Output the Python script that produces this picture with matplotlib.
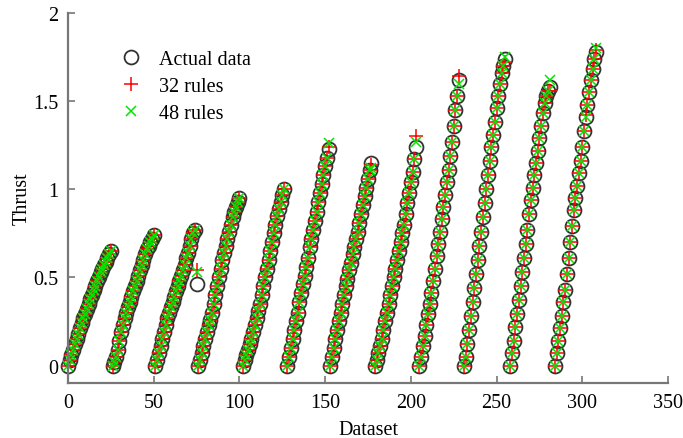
import numpy as np
import matplotlib
matplotlib.use("Agg")
import matplotlib.pyplot as plt
from matplotlib.ticker import FormatStrFormatter

# measured thrust, one list per test run (starting dataset index, values)
seg_start = [0, 26, 51, 76, 102, 128, 153, 179, 205, 231, 258, 284]
seg_values = [
    [0.0, 0.03, 0.06, 0.09, 0.12, 0.15, 0.18, 0.21, 0.24, 0.27, 0.29, 0.32, 0.35,
     0.38, 0.40, 0.43, 0.45, 0.48, 0.50, 0.53, 0.55, 0.57, 0.59, 0.61, 0.63, 0.65],
    [0.0, 0.02, 0.05, 0.09, 0.14, 0.19, 0.23, 0.27, 0.30, 0.33, 0.36, 0.39, 0.42,
     0.45, 0.48, 0.51, 0.54, 0.57, 0.60, 0.63, 0.66, 0.68, 0.70, 0.72, 0.74],
    [0.0, 0.03, 0.07, 0.11, 0.15, 0.19, 0.23, 0.27, 0.30, 0.33, 0.36, 0.39, 0.42,
     0.45, 0.48, 0.51, 0.54, 0.57, 0.61, 0.64, 0.68, 0.72, 0.75, 0.77, 0.46],
    [0.0, 0.03, 0.07, 0.11, 0.15, 0.19, 0.23, 0.26, 0.30, 0.35, 0.40, 0.45, 0.50,
     0.55, 0.60, 0.64, 0.68, 0.72, 0.76, 0.80, 0.84, 0.87, 0.90, 0.93, 0.95],
    [0.0, 0.03, 0.06, 0.09, 0.12, 0.15, 0.19, 0.23, 0.27, 0.31, 0.35, 0.40, 0.45,
     0.50, 0.55, 0.60, 0.65, 0.70, 0.75, 0.80, 0.85, 0.89, 0.93, 0.97, 1.0],
    [0.0, 0.05, 0.10, 0.15, 0.20, 0.25, 0.30, 0.36, 0.41, 0.46, 0.51, 0.56, 0.61,
     0.67, 0.72, 0.77, 0.82, 0.87, 0.93, 0.98, 1.03, 1.08, 1.13, 1.18, 1.23],
    [0.0, 0.05, 0.10, 0.15, 0.20, 0.25, 0.30, 0.35, 0.40, 0.45, 0.49, 0.54, 0.58,
     0.63, 0.67, 0.72, 0.76, 0.81, 0.86, 0.91, 0.96, 1.01, 1.06, 1.11, 1.15],
    [0.0, 0.03, 0.07, 0.11, 0.15, 0.20, 0.25, 0.30, 0.35, 0.40, 0.45, 0.50, 0.55,
     0.60, 0.65, 0.70, 0.75, 0.80, 0.86, 0.92, 0.98, 1.04, 1.10, 1.17, 1.24],
    [0.0, 0.05, 0.11, 0.17, 0.23, 0.29, 0.35, 0.41, 0.48, 0.55, 0.62, 0.69, 0.76,
     0.83, 0.90, 0.97, 1.04, 1.11, 1.19, 1.27, 1.36, 1.45, 1.53, 1.62],
    [0.0, 0.05, 0.12, 0.20, 0.28, 0.36, 0.44, 0.52, 0.60, 0.68, 0.76, 0.84, 0.92,
     1.00, 1.08, 1.16, 1.24, 1.31, 1.38, 1.46, 1.53, 1.60, 1.66, 1.70, 1.74],
    [0.0, 0.07, 0.14, 0.22, 0.29, 0.37, 0.45, 0.53, 0.61, 0.69, 0.77, 0.86, 0.94,
     1.01, 1.08, 1.15, 1.22, 1.29, 1.36, 1.43, 1.49, 1.53, 1.56, 1.58],
    [0.0, 0.07, 0.14, 0.21, 0.28, 0.36, 0.43, 0.52, 0.61, 0.70, 0.79, 0.88, 0.95,
     1.02, 1.09, 1.16, 1.24, 1.33, 1.41, 1.48, 1.55, 1.62, 1.68, 1.74, 1.78],
]

# fuzzy model outputs where they visibly differ from the measurement
rules32_diff = {75: 0.54, 152: 1.24, 177: 1.14, 203: 1.30, 228: 1.64,
                255: 1.72, 281: 1.56, 302: 1.42, 308: 1.79}
rules48_diff = {75: 0.53, 152: 1.26, 177: 1.12, 203: 1.27, 228: 1.60,
                255: 1.75, 281: 1.62, 308: 1.80}

dataset = []
actual = []
for s, vals in zip(seg_start, seg_values):
    dataset += list(range(s, s + len(vals)))
    actual += vals
dataset = np.array(dataset)
actual = np.array(actual)

rules32 = actual.copy()
for k, v in rules32_diff.items():
    rules32[dataset == k] = v
rules48 = actual.copy()
for k, v in rules48_diff.items():
    rules48[dataset == k] = v

plt.rcParams['font.family'] = ['Liberation Serif', 'DejaVu Serif']
fs = 14.5

fig = plt.figure(figsize=(6.83, 4.39), dpi=100)
ax = fig.add_axes([0.0996, 0.125, 0.8784, 0.843])

ax.plot(dataset, actual, 'o', ms=10, mfc='none', mec='#333333', mew=1.3,
        label='Actual data', clip_on=False)
ax.plot(dataset, rules32, '+', ms=10, color='#ff0000', mew=1.1,
        label='32 rules', clip_on=False)
ax.plot(dataset, rules48, 'x', ms=7.5, color='#00e600', mew=1.1,
        label='48 rules', clip_on=False)

ax.set_xlim(0, 350)
ax.set_ylim(-0.1, 2)
ax.set_xticks(np.arange(0, 351, 50))
ax.set_yticks(np.arange(0, 2.01, 0.5))
ax.yaxis.set_major_formatter(FormatStrFormatter('%g'))

for side in ['top', 'right']:
    ax.spines[side].set_visible(False)
for side in ['left', 'bottom']:
    ax.spines[side].set_color('#777777')
    ax.spines[side].set_linewidth(1.6)
ax.tick_params(direction='in', length=5, width=1.2, color='#777777',
               labelsize=fs, pad=7)

ax.set_xlabel('Dataset', fontsize=fs, labelpad=6)
ax.set_ylabel('Thrust', fontsize=fs, labelpad=1)

leg = ax.legend(loc='upper left', bbox_to_anchor=(0.055, 0.95), frameon=False,
                fontsize=fs, handletextpad=0.8, labelspacing=0.4,
                handlelength=1.2)

fig.savefig('out.png', dpi=100)
